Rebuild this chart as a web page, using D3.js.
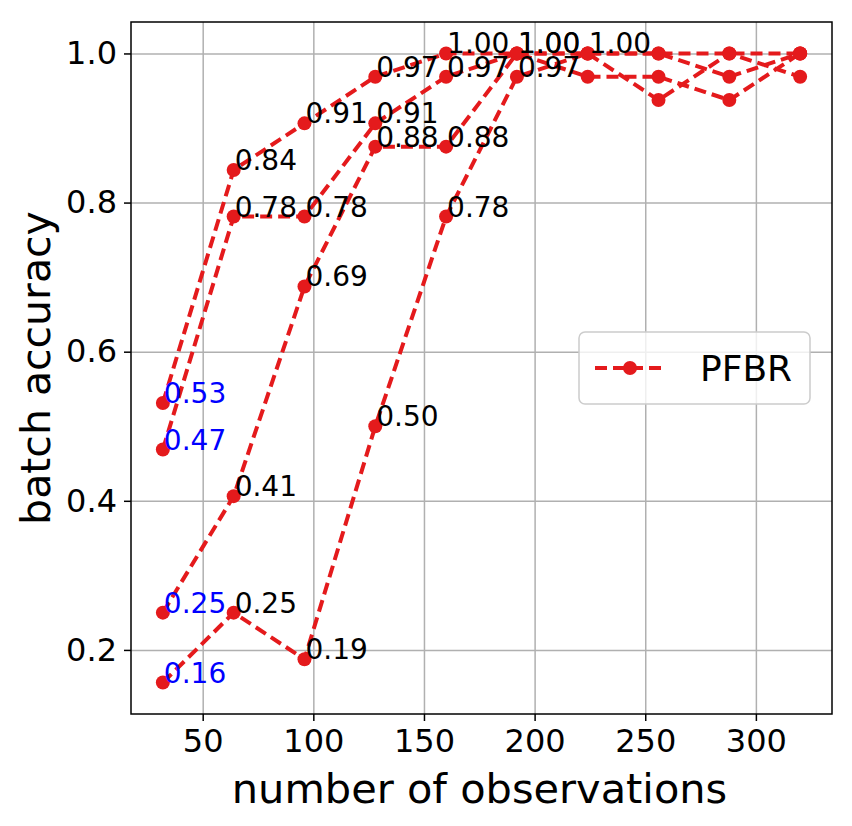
<!DOCTYPE html>
<html>
<head>
<meta charset="utf-8">
<script src="https://cdn.jsdelivr.net/npm/d3@7"></script>
<style>
  body { margin: 0; background: #fff; }
  text { font-family: "DejaVu Sans", sans-serif; }
</style>
</head>
<body>
<div id="chart"></div>
<script>
// number of observations (x) for every run
const observations = [32, 64, 96, 128, 160, 192, 224, 256, 288, 320];

// batch accuracy of the four PFBR runs
const runA = [0.53125, 0.84375, 0.90625, 0.96875, 1.0, 1.0, 1.0, 1.0, 1.0, 1.0];
const runB = [0.46875, 0.78125, 0.78125, 0.90625, 0.96875, 1.0, 0.96875, 0.96875, 0.9375, 1.0];
const runC = [0.25, 0.40625, 0.6875, 0.875, 0.875, 1.0, 1.0, 0.9375, 1.0, 0.96875];
const runD = [0.15625, 0.25, 0.1875, 0.5, 0.78125, 0.96875, 1.0, 1.0, 0.96875, 1.0];
const runs = [runA, runB, runC, runD];

const xTicks = [50, 100, 150, 200, 250, 300];
const yTicks = [0.2, 0.4, 0.6, 0.8, 1.0];
const legendLabel = "PFBR";

const width = 852, height = 826;
const margin = { top: 22, right: 20, bottom: 112, left: 131 };
const red = "#e41a1c";

const svg = d3.select("#chart").append("svg")
  .attr("width", width).attr("height", height);

svg.append("rect").attr("width", width).attr("height", height).attr("fill", "#fff");

// matplotlib-like 5% padding around the data
const xMin = d3.min(observations), xMax = d3.max(observations);
const allY = runs.flat();
const yMin = d3.min(allY), yMax = d3.max(allY);
const xPad = (xMax - xMin) * 0.05, yPad = (yMax - yMin) * 0.05;

const x = d3.scaleLinear()
  .domain([xMin - xPad, xMax + xPad])
  .range([margin.left, width - margin.right]);
const y = d3.scaleLinear()
  .domain([yMin - yPad, yMax + yPad])
  .range([height - margin.bottom, margin.top]);

// grid
svg.append("g")
  .attr("transform", `translate(0,${height - margin.bottom})`)
  .call(d3.axisBottom(x).tickValues(xTicks).tickSize(-(height - margin.bottom - margin.top)).tickFormat(""))
  .call(g => g.select(".domain").remove())
  .call(g => g.selectAll("line").attr("stroke", "#b0b0b0").attr("stroke-width", 1.5));
svg.append("g")
  .attr("transform", `translate(${margin.left},0)`)
  .call(d3.axisLeft(y).tickValues(yTicks).tickSize(-(width - margin.right - margin.left)).tickFormat(""))
  .call(g => g.select(".domain").remove())
  .call(g => g.selectAll("line").attr("stroke", "#b0b0b0").attr("stroke-width", 1.5));

// axes with ticks
const xAxis = svg.append("g")
  .attr("transform", `translate(0,${height - margin.bottom})`)
  .call(d3.axisBottom(x).tickValues(xTicks).tickSize(7).tickPadding(8).tickFormat(d3.format("d")));
xAxis.selectAll("text").attr("font-size", 32).attr("fill", "#000").style("font-family", "DejaVu Sans");
xAxis.selectAll("line").attr("stroke", "#000").attr("stroke-width", 1.5);
const yAxis = svg.append("g")
  .attr("transform", `translate(${margin.left},0)`)
  .call(d3.axisLeft(y).tickValues(yTicks).tickSize(7).tickPadding(7).tickFormat(d3.format(".1f")));
yAxis.selectAll("text").attr("font-size", 32).attr("fill", "#000").style("font-family", "DejaVu Sans");
yAxis.selectAll("line").attr("stroke", "#000").attr("stroke-width", 1.5);
svg.selectAll(".domain").remove();

// lines
const line = d3.line().x((d, i) => x(observations[i])).y(d => y(d));
runs.forEach(run => {
  svg.append("path")
    .datum(run)
    .attr("d", line)
    .attr("fill", "none")
    .attr("stroke", red)
    .attr("stroke-width", 4)
    .attr("stroke-dasharray", "12,6");
});
runs.forEach(run => {
  svg.append("g").selectAll("circle")
    .data(run)
    .join("circle")
    .attr("cx", (d, i) => x(observations[i]))
    .attr("cy", d => y(d))
    .attr("r", 7)
    .attr("fill", red);
});

// value labels: each run is labelled until it first reaches 1.0
runs.forEach(run => {
  const stop = run.indexOf(1.0);
  run.forEach((v, i) => {
    if (stop >= 0 && i > stop) return;
    svg.append("text")
      .attr("x", x(observations[i]) + 1)
      .attr("y", y(v))
      .attr("font-size", 28)
      .attr("fill", i === 0 ? "#0000ff" : "#000")
      .text(v.toFixed(2));
  });
});

// frame
svg.append("rect")
  .attr("x", margin.left).attr("y", margin.top)
  .attr("width", width - margin.left - margin.right)
  .attr("height", height - margin.top - margin.bottom)
  .attr("fill", "none").attr("stroke", "#000").attr("stroke-width", 1.5);

// axis titles
svg.append("text")
  .attr("x", (margin.left + width - margin.right) / 2 - 2)
  .attr("y", height - 23)
  .attr("text-anchor", "middle")
  .attr("font-size", 41.5)
  .text("number of observations");
svg.append("text")
  .attr("transform", `translate(50,${(margin.top + height - margin.bottom) / 2}) rotate(-90)`)
  .attr("text-anchor", "middle")
  .attr("font-size", 41)
  .text("batch accuracy");

// legend, centre right
const midY = (margin.top + height - margin.bottom) / 2;
const legend = svg.append("g").attr("transform", `translate(579,${midY - 36})`);
legend.append("rect")
  .attr("width", 231).attr("height", 72).attr("rx", 6)
  .attr("fill", "#fff").attr("fill-opacity", 0.8)
  .attr("stroke", "#cccccc").attr("stroke-width", 1.5);
legend.append("line")
  .attr("x1", 16).attr("x2", 86).attr("y1", 36).attr("y2", 36)
  .attr("stroke", red).attr("stroke-width", 4).attr("stroke-dasharray", "12,6");
legend.append("circle").attr("cx", 51).attr("cy", 36).attr("r", 7).attr("fill", red);
legend.append("text")
  .attr("x", 121).attr("y", 49)
  .attr("font-size", 36)
  .text(legendLabel);
</script>
</body>
</html>
